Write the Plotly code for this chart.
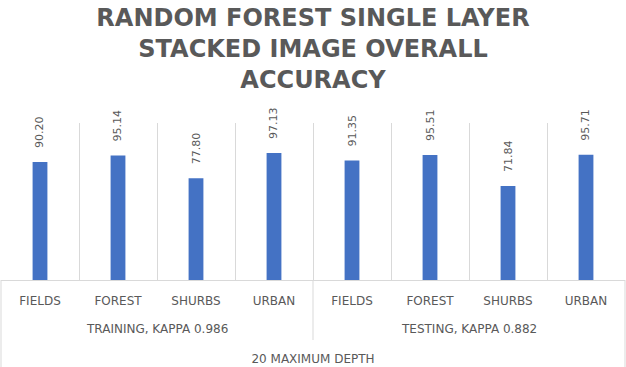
import plotly.graph_objects as go

# ---- data ----
groups = ["TRAINING, KAPPA 0.986", "TESTING, KAPPA 0.882"]
classes = ["FIELDS", "FOREST", "SHURBS", "URBAN"]
training = [90.20, 95.14, 77.80, 97.13]
testing = [91.35, 95.51, 71.84, 95.71]
depth_label = "20 MAXIMUM DEPTH"
title_text = "RANDOM FOREST SINGLE LAYER<br>STACKED IMAGE OVERALL<br>ACCURACY"

series = [training, testing]
values = [v for s in series for v in s]
children = classes * len(groups)
positions = list(range(len(values)))
n_per = len(classes)

GRAY = "#595959"
GRID = "#d9d9d9"
FONT = "DejaVu Sans"
PLOT_H = 157.0  # plot area height in px (367 - 123 - 87)

fig = go.Figure()
fig.add_trace(go.Bar(
    x=positions,
    y=values,
    width=0.19,
    marker=dict(color="#4472C4", line=dict(width=0)),
    hoverinfo="y",
))

# data labels
for i, v in zip(positions, values):
    fig.add_annotation(
        x=i, y=v, xref="x", yref="y",
        text=f"{v:.2f}", textangle=-90, showarrow=False,
        yanchor="bottom", xanchor="center", yshift=12,
        font=dict(family=FONT, size=11, color=GRAY),
    )

# group labels + group divider
for gi, g in enumerate(groups):
    idx = positions[gi * n_per:(gi + 1) * n_per]
    center = sum(idx) / len(idx)
    fig.add_annotation(
        x=center, xref="x", y=-(329 - 280) / PLOT_H, yref="paper",
        text=g, showarrow=False, yanchor="middle", xanchor="center",
        font=dict(family=FONT, size=12, color=GRAY),
    )
    if gi > 0:
        fig.add_shape(type="line", xref="x", yref="paper",
                      x0=idx[0] - 0.5, x1=idx[0] - 0.5,
                      y0=0, y1=-(340 - 280) / PLOT_H,
                      line=dict(color=GRID, width=1))

# outer edge lines running down through the label rows
for xp in (0, 1):
    fig.add_shape(type="line", xref="paper", yref="paper",
                  x0=xp, x1=xp, y0=0, y1=-87 / PLOT_H,
                  line=dict(color=GRID, width=1))

fig.update_layout(
    width=626, height=367,
    margin=dict(l=1, r=1, t=123, b=87, autoexpand=False),
    paper_bgcolor="white", plot_bgcolor="white",
    showlegend=False,
    title=dict(text=title_text, x=0.5, xanchor="center",
               y=1 - 26 / 367, yref="container", yanchor="top",
               automargin=False,
               font=dict(family=FONT, size=24, color=GRAY, weight="bold")),
    font=dict(family=FONT, color=GRAY),
)
fig.update_xaxes(
    range=[-0.5, len(values) - 0.5],
    tickmode="array", tickvals=positions, ticktext=children,
    ticks="", ticklabelstandoff=10,
    showgrid=False, zeroline=False,
    minor=dict(tickmode="array",
               tickvals=[p - 0.5 for p in positions] + [positions[-1] + 0.5],
               showgrid=True, gridcolor=GRID, gridwidth=1, ticks=""),
    showline=True, linecolor=GRID, linewidth=1,
    tickfont=dict(family=FONT, size=12, color=GRAY),
    title=dict(text=depth_label, standoff=47,
               font=dict(family=FONT, size=12, color=GRAY)),
    automargin=False, fixedrange=True,
)
fig.update_yaxes(range=[0, 120], visible=False, showgrid=False,
                 zeroline=False, fixedrange=True)

fig.write_html(
    "out.html",
    config={"displayModeBar": False},
    post_script="document.body.style.margin='0';document.body.style.overflow='hidden';",
)
